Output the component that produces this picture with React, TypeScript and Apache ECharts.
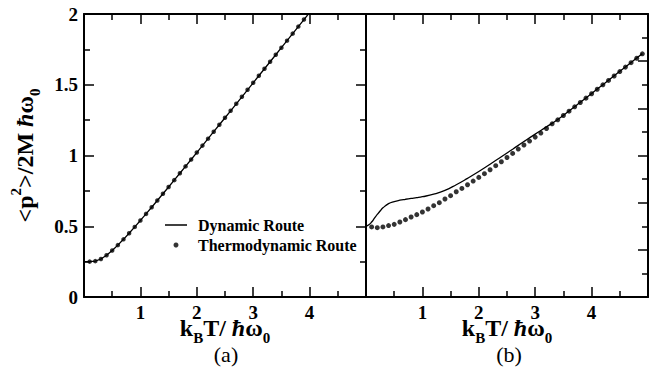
import React, { useEffect, useRef } from "react";
import * as echarts from "echarts";

// ---------- data ----------
// panel (a): thermodynamic route (dots), x = kBT/ħω0, y = <p²>/2Mħω0
const thermoA_t = [0.1, 0.2, 0.3, 0.4, 0.5, 0.6, 0.7, 0.8, 0.9, 1.0, 1.1, 1.2, 1.3, 1.4, 1.5, 1.6, 1.7, 1.8, 1.9, 2.0, 2.1, 2.2, 2.3, 2.4, 2.5, 2.6, 2.7, 2.8, 2.9, 3.0, 3.1, 3.2, 3.3, 3.4, 3.5, 3.6, 3.7, 3.8, 3.9];
const thermoA_v = [0.2500, 0.2534, 0.2685, 0.2947, 0.3283, 0.3665, 0.4076, 0.4508, 0.4954, 0.5410, 0.5874, 0.6343, 0.6817, 0.7295, 0.7776, 0.8259, 0.8744, 0.9230, 0.9718, 1.0207, 1.0698, 1.1189, 1.1681, 1.2173, 1.2666, 1.3160, 1.3654, 1.4149, 1.4643, 1.5139, 1.5634, 1.6130, 1.6626, 1.7122, 1.7619, 1.8116, 1.8613, 1.9110, 1.9607];
// panel (a): dynamic route (line)
const dynA_t = [0, 0.1, 0.2, 0.3, 0.4, 0.5, 0.6, 0.7, 0.8, 0.9, 1.0, 1.1, 1.2, 1.3, 1.4, 1.5, 1.6, 1.7, 1.8, 1.9, 2.0, 2.1, 2.2, 2.3, 2.4, 2.5, 2.6, 2.7, 2.8, 2.9, 3.0, 3.1, 3.2, 3.3, 3.4, 3.5, 3.6, 3.7, 3.8, 3.9, 4.0];
const dynA_v = [0.2500, 0.2500, 0.2534, 0.2685, 0.2947, 0.3283, 0.3665, 0.4076, 0.4508, 0.4954, 0.5410, 0.5874, 0.6343, 0.6817, 0.7295, 0.7776, 0.8259, 0.8744, 0.9230, 0.9718, 1.0207, 1.0698, 1.1189, 1.1681, 1.2173, 1.2666, 1.3160, 1.3654, 1.4149, 1.4643, 1.5139, 1.5634, 1.6130, 1.6626, 1.7122, 1.7619, 1.8116, 1.8613, 1.9110, 1.9607, 2.0104];

// panel (b): thermodynamic route (dots)
const thermoB_t = [0.1, 0.2, 0.3, 0.4, 0.5, 0.6, 0.7, 0.8, 0.9, 1.0, 1.1, 1.2, 1.3, 1.4, 1.5, 1.6, 1.7, 1.8, 1.9, 2.0, 2.1, 2.2, 2.3, 2.4, 2.5, 2.6, 2.7, 2.8, 2.9, 3.0, 3.1, 3.2, 3.3, 3.4, 3.5, 3.6, 3.7, 3.8, 3.9, 4.0, 4.1, 4.2, 4.3, 4.4, 4.5, 4.6, 4.7, 4.8, 4.9];
const thermoB_v = [0.743, 0.735, 0.743, 0.757, 0.770, 0.795, 0.820, 0.848, 0.873, 0.901, 0.933, 0.968, 1.000, 1.039, 1.074, 1.116, 1.151, 1.190, 1.229, 1.268, 1.307, 1.349, 1.392, 1.434, 1.479, 1.522, 1.568, 1.611, 1.653, 1.695, 1.738, 1.786, 1.836, 1.878, 1.924, 1.970, 2.016, 2.062, 2.108, 2.155, 2.202, 2.249, 2.296, 2.343, 2.390, 2.437, 2.484, 2.531, 2.578];
// panel (b): dynamic route (line)
const dynB_t = [0, 0.05, 0.1, 0.15, 0.2, 0.25, 0.3, 0.4, 0.5, 0.6, 0.7, 0.8, 0.9, 1.0, 1.2, 1.4, 1.6, 1.8, 2.0, 2.2, 2.4, 2.6, 2.8, 3.0, 3.2, 3.4, 3.6, 3.8, 4.0, 4.2, 4.4, 4.6, 4.8, 4.9];
const dynB_v = [0.75, 0.765, 0.795, 0.835, 0.875, 0.912, 0.945, 0.99, 1.012, 1.026, 1.036, 1.045, 1.053, 1.063, 1.09, 1.13, 1.19, 1.258, 1.33, 1.407, 1.487, 1.567, 1.648, 1.727, 1.803, 1.882, 1.972, 2.064, 2.157, 2.251, 2.345, 2.439, 2.533, 2.58];

const xTickLabels = ["1", "2", "3", "4"];
const yTickLabelsA = ["0", "0.5", "1", "1.5", "2"];
const panelLabels = ["(a)", "(b)"];
const seriesNames = ["Dynamic Route", "Thermodynamic Route"];

const FONT = "'Liberation Serif', 'Times New Roman', serif";
const pairs = (t: number[], v: number[]) => t.map((x, i) => [x, v[i]]);

// fresh objects for every axis
const axisLine = () => ({ show: true, onZero: false, lineStyle: { color: "#000", width: 2 } });
const axisTick = () => ({ show: true, inside: true, length: 10, lineStyle: { color: "#000", width: 1.5 } });
const minorTick = () => ({ show: true, splitNumber: 2, length: 6, lineStyle: { color: "#000", width: 1.5 } });
const richTitle = () => ({
  b: { fontFamily: FONT, fontWeight: "bold", fontSize: 24, color: "#000", lineHeight: 34 },
  h: { fontFamily: FONT, fontWeight: "bold", fontStyle: "italic", fontSize: 24, color: "#000", lineHeight: 34 },
  s: { fontFamily: FONT, fontWeight: "bold", fontSize: 15, color: "#000", lineHeight: 15, verticalAlign: "bottom" },
  u: { fontFamily: FONT, fontWeight: "bold", fontSize: 15, color: "#000", lineHeight: 15, verticalAlign: "top" },
});

function xAxisCfg(gridIndex: number, position: string, withLabels: boolean) {
  const cfg: any = {
    type: "value",
    gridIndex,
    position,
    min: 0,
    max: 5,
    interval: 1,
    axisLine: axisLine(),
    axisTick: axisTick(),
    minorTick: minorTick(),
    splitLine: { show: false },
    axisLabel: {
      show: withLabels,
      margin: 6,
      color: "#000",
      fontFamily: FONT,
      fontWeight: "bold",
      fontSize: 19,
      formatter: (v: number) => (xTickLabels.includes(String(v)) ? String(v) : ""),
    },
  };
  if (withLabels) {
    cfg.name = "{b|k}{s|B}{b|T/ }{h|ħ}{b|ω}{s|0}";
    cfg.nameLocation = "middle";
    cfg.nameGap = 14;
    cfg.nameMoveOverlap = false;
    cfg.nameTextStyle = { rich: richTitle() };
  }
  return cfg;
}

function yAxisCfg(gridIndex: number, position: string, max: number, ticks: boolean) {
  return {
    type: "value",
    gridIndex,
    position,
    min: 0,
    max,
    interval: 0.5,
    axisLine: axisLine(),
    axisTick: ticks ? axisTick() : { show: false },
    minorTick: ticks ? minorTick() : { show: false },
    splitLine: { show: false },
    axisLabel: { show: false },
  };
}

export default function App() {
  const ref = useRef<HTMLDivElement>(null);
  useEffect(() => {
    if (!ref.current) return;
    const chart = echarts.init(ref.current, undefined, { renderer: "svg" });
    const yLeftA: any = {
      ...yAxisCfg(0, "left", 2, true),
      axisLabel: {
        show: true,
        margin: 6,
        color: "#000",
        fontFamily: FONT,
        fontWeight: "bold",
        fontSize: 19,
        formatter: (v: number) => (yTickLabelsA.includes(String(v)) ? String(v) : ""),
      },
      name: "{b|<p}{u|2}{b|>/2M }{h|ħ}{b|ω}{s|0}",
      nameLocation: "middle",
      nameRotate: 90,
      nameGap: 42,
      nameMoveOverlap: false,
      nameTextStyle: { rich: richTitle() },
    };
    const legendText = (pad: number) => ({
      fontFamily: FONT, fontWeight: "bold", fontSize: 16, lineHeight: 18, color: "#000", padding: [0, 0, 0, pad],
    });
    const option: any = {
      animation: false,
      backgroundColor: "#fff",
      grid: [
        { left: 84, top: 14, width: 282, height: 283 },
        { left: 366, top: 14, width: 282, height: 283 },
      ],
      legend: [
        {
          left: 165, top: 216, padding: 0, itemWidth: 22, itemHeight: 1.5, selectedMode: false,
          textStyle: legendText(6),
          data: [{ name: seriesNames[0], icon: "rect" }],
        },
        {
          left: 173.5, top: 236, padding: 0, itemWidth: 5, itemHeight: 5, selectedMode: false,
          textStyle: legendText(14.5),
          data: [{ name: seriesNames[1], icon: "circle" }],
        },
      ],
      xAxis: [
        xAxisCfg(0, "bottom", true),
        xAxisCfg(0, "top", false),
        xAxisCfg(1, "bottom", true),
        xAxisCfg(1, "top", false),
      ],
      yAxis: [
        yLeftA,
        yAxisCfg(0, "right", 2, true),
        yAxisCfg(1, "left", 3, false),
        yAxisCfg(1, "right", 3, true),
      ],
      series: [
        {
          name: seriesNames[0], type: "line", xAxisIndex: 0, yAxisIndex: 0,
          data: pairs(dynA_t, dynA_v), symbol: "none",
          lineStyle: { color: "#000", width: 1.3 }, itemStyle: { color: "#000" }, z: 2,
        },
        {
          name: seriesNames[1], type: "scatter", xAxisIndex: 0, yAxisIndex: 0,
          data: pairs(thermoA_t, thermoA_v), symbol: "circle", symbolSize: 4.5,
          itemStyle: { color: "#000" }, z: 3,
        },
        {
          name: seriesNames[0], type: "line", xAxisIndex: 2, yAxisIndex: 2,
          data: pairs(dynB_t, dynB_v), symbol: "none", smooth: true,
          lineStyle: { color: "#000", width: 1.3 }, itemStyle: { color: "#000" }, z: 2,
        },
        {
          name: seriesNames[1], type: "scatter", xAxisIndex: 2, yAxisIndex: 2,
          data: pairs(thermoB_t, thermoB_v), symbol: "circle", symbolSize: 5,
          itemStyle: { color: "#000" }, z: 3,
        },
      ],
      graphic: [
        { type: "text", x: 226, y: 354, style: { text: panelLabels[0], fontFamily: FONT, fontSize: 22, fill: "#000", align: "center", verticalAlign: "middle" } },
        { type: "text", x: 509, y: 354, style: { text: panelLabels[1], fontFamily: FONT, fontSize: 22, fill: "#000", align: "center", verticalAlign: "middle" } },
      ],
    };
    chart.setOption(option);
    return () => chart.dispose();
  }, []);
  return <div ref={ref} style={{ width: 667, height: 379, position: "absolute", left: 0, top: 0 }} />;
}
